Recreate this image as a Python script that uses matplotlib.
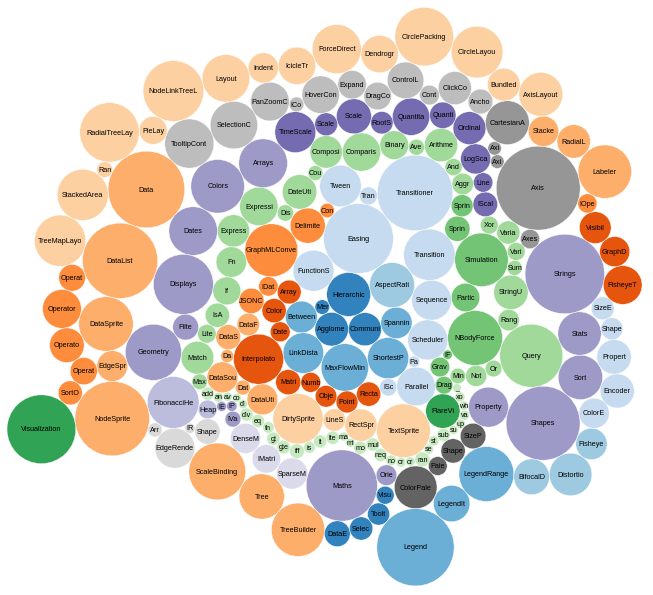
import math
import matplotlib
matplotlib.use('Agg')
import matplotlib.pyplot as plt
from matplotlib.patches import Circle


# flare classes, in the order they appear in flare.json
class_names = [
    'AgglomerativeCluster', 'CommunityStructure', 'HierarchicalCluster', 'MergeEdge',
    'BetweennessCentrality', 'LinkDistance', 'MaxFlowMinCut', 'ShortestPaths', 'SpanningTree',
    'AspectRatioBanker',
    'Easing', 'FunctionSequence',
    'ArrayInterpolator', 'ColorInterpolator', 'DateInterpolator', 'Interpolator', 'MatrixInterpolator',
    'NumberInterpolator', 'ObjectInterpolator', 'PointInterpolator', 'RectangleInterpolator',
    'ISchedulable', 'Parallel', 'Pause', 'Scheduler', 'Sequence', 'Transition', 'Transitioner',
    'TransitionEvent', 'Tween',
    'Converters', 'DelimitedTextConverter', 'GraphMLConverter', 'IDataConverter', 'JSONConverter',
    'DataField', 'DataSchema', 'DataSet', 'DataSource', 'DataTable', 'DataUtil',
    'DirtySprite', 'LineSprite', 'RectSprite', 'TextSprite',
    'FlareVis',
    'DragForce', 'GravityForce', 'IForce', 'NBodyForce', 'Particle', 'Simulation', 'Spring', 'SpringForce',
    'AggregateExpression', 'And', 'Arithmetic', 'Average', 'BinaryExpression', 'Comparison',
    'CompositeExpression', 'Count', 'DateUtil', 'Distinct', 'Expression', 'ExpressionIterator',
    'Fn', 'If', 'IsA', 'Literal', 'Match', 'Maximum',
    'add', 'and', 'average', 'count', 'distinct', 'div', 'eq', 'fn', 'gt', 'gte', 'iff', 'isa',
    'lt', 'lte', 'max', 'min', 'mod', 'mul', 'neq', 'not', 'or', 'orderby', 'range', 'select',
    'stddev', 'sub', 'sum', 'update', 'variance', 'where', 'xor', '_',
    'Minimum', 'Not', 'Or', 'Query', 'Range', 'StringUtil', 'Sum', 'Variable', 'Variance', 'Xor',
    'IScaleMap', 'LinearScale', 'LogScale', 'OrdinalScale', 'QuantileScale', 'QuantitativeScale',
    'RootScale', 'Scale', 'ScaleType', 'TimeScale',
    'Arrays', 'Colors', 'Dates', 'Displays', 'Filter', 'Geometry',
    'FibonacciHeap', 'HeapNode',
    'IEvaluable', 'IPredicate', 'IValueProxy',
    'DenseMatrix', 'IMatrix', 'SparseMatrix',
    'Maths', 'Orientation',
    'ColorPalette', 'Palette', 'ShapePalette', 'SizePalette',
    'Property', 'Shapes', 'Sort', 'Stats', 'Strings',
    'Axes', 'Axis', 'AxisGridLine', 'AxisLabel', 'CartesianAxes',
    'AnchorControl', 'ClickControl', 'Control', 'ControlList', 'DragControl', 'ExpandControl',
    'HoverControl', 'IControl', 'PanZoomControl', 'SelectionControl', 'TooltipControl',
    'Data', 'DataList', 'DataSprite', 'EdgeSprite', 'NodeSprite',
    'ArrowType', 'EdgeRenderer', 'IRenderer', 'ShapeRenderer',
    'ScaleBinding', 'Tree', 'TreeBuilder',
    'DataEvent', 'SelectionEvent', 'TooltipEvent', 'VisualizationEvent',
    'Legend', 'LegendItem', 'LegendRange',
    'BifocalDistortion', 'Distortion', 'FisheyeDistortion',
    'ColorEncoder', 'Encoder', 'PropertyEncoder', 'ShapeEncoder', 'SizeEncoder',
    'FisheyeTreeFilter', 'GraphDistanceFilter', 'VisibilityFilter',
    'IOperator',
    'Labeler', 'RadialLabeler', 'StackedAreaLabeler',
    'AxisLayout', 'BundledEdgeRouter', 'CircleLayout', 'CirclePackingLayout', 'DendrogramLayout',
    'ForceDirectedLayout', 'IcicleTreeLayout', 'IndentedTreeLayout', 'Layout', 'NodeLinkTreeLayout',
    'PieLayout', 'RadialTreeLayout', 'RandomLayout', 'StackedAreaLayout', 'TreeMapLayout',
    'Operator', 'OperatorList', 'OperatorSequence', 'OperatorSwitch', 'SortOperator',
    'Visualization',
]

class_sizes = [
    3938, 3812, 6714, 743,
    3534, 5731, 7840, 5914, 3416,
    7074,
    17010, 5842,
    1983, 2047, 1375, 8746, 2202,
    1382, 1629, 1675, 2042,
    1041, 5176, 449, 5593, 5534, 9201, 19975,
    1116, 6006,
    721, 4294, 9800, 1314, 2220,
    1759, 2165, 586, 3331, 772, 3322,
    8833, 1732, 3623, 10066,
    4116,
    1082, 1336, 319, 10498, 2822, 9983, 2213, 1681,
    1616, 1027, 3891, 891, 2893, 5103,
    3677, 781, 4141, 933, 5130, 3617,
    3240, 2732, 2039, 1214, 3748, 843,
    593, 330, 287, 277, 292, 595, 594, 460, 603, 625, 748, 461,
    597, 619, 283, 283, 591, 603, 599, 386, 323, 307, 772, 296,
    363, 600, 280, 307, 335, 299, 354, 264,
    843, 1554, 970, 13896, 1594, 4130, 791, 1124, 1876, 1101,
    2105, 1316, 3151, 3770, 2435, 4839,
    1756, 4268, 1821, 5833,
    8258, 10001, 8217, 12555, 2324, 10993,
    9354, 1233,
    335, 383, 874,
    3165, 2815, 3366,
    17705, 1486,
    6367, 1229, 2059, 2291,
    5559, 19118, 6887, 6557, 22026,
    1302, 24593, 652, 636, 6703,
    2138, 3824, 1353, 4665, 2649, 2832,
    4896, 763, 5222, 7862, 8435,
    20544, 19788, 10349, 3301, 19382,
    698, 5569, 353, 2247,
    11275, 7147, 9930,
    2313, 1880, 1701, 1117,
    20859, 4614, 10530,
    4461, 6314, 3444,
    3179, 4060, 4138, 1690, 1830,
    5219, 3165, 3509,
    1286,
    9956, 3899, 3202,
    6725, 3727, 9317, 12003, 4853,
    8411, 4864, 3174, 7881, 12870,
    2728, 12348, 870, 9121, 9191,
    2490, 5248, 4190, 2581, 2023,
    16540,
]

# name of the parent package of each class (colour key)
class_packages = (
    ['cluster'] * 4 + ['graph'] * 5 + ['optimization'] * 1
    + ['animate'] * 2 + ['interpolate'] * 9 + ['animate'] * 9
    + ['converters'] * 5 + ['data'] * 6 + ['display'] * 4 + ['flex'] * 1
    + ['physics'] * 8 + ['query'] * 18 + ['methods'] * 32 + ['query'] * 10
    + ['scale'] * 10
    + ['util'] * 6 + ['heap'] * 2 + ['util'] * 3 + ['math'] * 3 + ['util'] * 2
    + ['palette'] * 4 + ['util'] * 5
    + ['axis'] * 5 + ['controls'] * 11 + ['data'] * 5 + ['render'] * 4 + ['data'] * 3
    + ['events'] * 4 + ['legend'] * 3 + ['distortion'] * 3 + ['encoder'] * 5
    + ['filter'] * 3 + ['operator'] * 1 + ['label'] * 3 + ['layout'] * 15
    + ['operator'] * 5 + ['vis'] * 1
)

# d3 category20c
category20c = [
    '#3182bd', '#6baed6', '#9ecae1', '#c6dbef', '#e6550d', '#fd8d3c', '#fdae6b', '#fdd0a2',
    '#31a354', '#74c476', '#a1d99b', '#c7e9c0', '#756bb1', '#9e9ac8', '#bcbddc', '#dadaeb',
    '#636363', '#969696', '#bdbdbd', '#d9d9d9',
]

diameter = 960
# screenshot is the 960px svg shown at ~72%
px_per_unit = 0.723


class Node:
    def __init__(self, r):
        self.r = r
        self.x = 0.0
        self.y = 0.0
        self.next = self
        self.prev = self


def place(a, b, c):
    # old (d3 v2) trig version
    db = a.r + c.r
    dx = b.x - a.x
    dy = b.y - a.y
    if db and (dx or dy):
        da = b.r + c.r
        dc = math.sqrt(dx * dx + dy * dy)
        cos = max(-1, min(1, (db * db + dc * dc - da * da) / (2 * db * dc)))
        theta = math.acos(cos)
        db /= dc
        x = cos * db
        y = math.sin(theta) * db
        c.x = a.x + x * dx + y * dy
        c.y = a.y + x * dy - y * dx
    else:
        c.x = a.x + db
        c.y = a.y


def insert(a, b):
    c = a.next
    a.next = b
    b.prev = a
    b.next = c
    c.prev = b


def splice(a, b):
    a.next = b
    b.prev = a


def intersects(a, b):
    dx = b.x - a.x
    dy = b.y - a.y
    dr = a.r + b.r
    return dr * dr - dx * dx - dy * dy > .001


def pack_siblings(nodes):
    # front-chain packing, as in d3 v2 layout.pack with sort(null)
    bbox = [math.inf, -math.inf, math.inf, -math.inf]

    def bound(nd):
        bbox[0] = min(nd.x - nd.r, bbox[0])
        bbox[1] = max(nd.x + nd.r, bbox[1])
        bbox[2] = min(nd.y - nd.r, bbox[2])
        bbox[3] = max(nd.y + nd.r, bbox[3])

    n = len(nodes)
    a = nodes[0]
    a.x = -a.r
    a.y = 0.0
    bound(a)
    b = nodes[1]
    b.x = b.r
    b.y = 0.0
    bound(b)
    c = nodes[2]
    place(a, b, c)
    bound(c)
    insert(a, c)
    a.prev = c
    insert(c, b)
    b = a.next
    i = 3
    while i < n:
        c = nodes[i]
        place(a, b, c)
        isect = 0
        s1 = 1
        s2 = 1
        j = b.next
        while j is not b:
            if intersects(j, c):
                isect = 1
                break
            j = j.next
            s1 += 1
        if isect == 1:
            k = a.prev
            while k is not j.prev:
                if intersects(k, c):
                    if s2 < s1:
                        isect = -1
                        j = k
                    break
                k = k.prev
                s2 += 1
        if isect == 0:
            insert(a, c)
            b = c
            bound(c)
            i += 1
        elif isect > 0:
            splice(a, j)
            b = j
        else:
            splice(j, b)
            a = j

    cx = (bbox[0] + bbox[1]) / 2
    cy = (bbox[2] + bbox[3]) / 2
    cr = 0
    for nd in nodes:
        nd.x -= cx
        nd.y -= cy
        cr = max(cr, nd.r + math.sqrt(nd.x * nd.x + nd.y * nd.y))
    return cr


nodes = [Node(math.sqrt(v)) for v in class_sizes]
root_r = pack_siblings(nodes)
k = diameter / (2 * root_r)
xs = [diameter / 2 + k * nd.x for nd in nodes]
ys = [diameter / 2 + k * nd.y for nd in nodes]
rs = [k * nd.r for nd in nodes]

# colour scale: ordinal, domain in order of first use
pkg_order = []
for p in class_packages:
    if p not in pkg_order:
        pkg_order.append(p)

fig = plt.figure(figsize=(6.53, 5.95), dpi=100)
ax = fig.add_axes([0, 0, 1, 1])
# view window: the first two bubbles sit at about (348, 329) px in the screenshot
mx = (xs[0] + xs[1]) / 2
my = (ys[0] + ys[1]) / 2
ax.set_xlim(mx - 348.3 / px_per_unit, mx + (653 - 348.3) / px_per_unit)
ax.set_ylim(my + (595 - 329.2) / px_per_unit, my - 329.2 / px_per_unit)
ax.axis('off')

font_pt = 10 * px_per_unit * 72 / 100

for x, y, r, name, pkg in zip(xs, ys, rs, class_names, class_packages):
    color = category20c[pkg_order.index(pkg) % 20]
    ax.add_patch(Circle((x, y), r, facecolor=color, edgecolor='white', linewidth=0.3))
    label = name[:int(r / 3)]
    if label:
        ax.text(x, y + 3, label, ha='center', va='baseline', fontsize=font_pt,
                family='Liberation Sans', color='black')

fig.savefig('out.png', dpi=100, facecolor='white')
